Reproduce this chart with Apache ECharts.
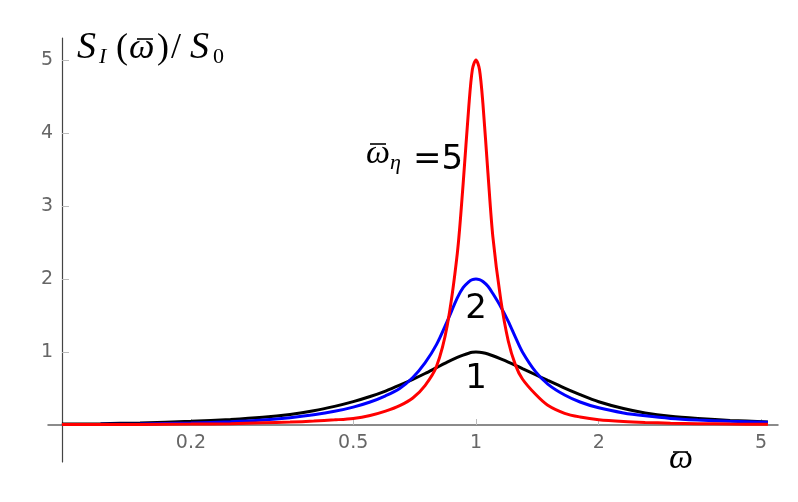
<!DOCTYPE html>
<html>
<head>
<meta charset="utf-8">
<script src="https://cdn.jsdelivr.net/npm/echarts@6.0.0/dist/echarts.min.js"></script>
<style>
  html, body { margin: 0; padding: 0; background: #fff; }
  #chart { width: 798px; height: 502px; }
</style>
</head>
<body>
<div id="chart"></div>
<script>
// normalised frequency (log axis)
const omega = [0.0965, 0.12, 0.15, 0.2, 0.25, 0.3, 0.35, 0.4, 0.45, 0.5, 0.55, 0.6, 0.65, 0.7, 0.75,
  0.8, 0.85, 0.9, 0.93, 0.96, 0.98, 1, 1.02, 1.04, 1.07, 1.1, 1.15, 1.2, 1.25, 1.3, 1.4, 1.5,
  1.65, 1.8, 2, 2.3, 2.6, 3, 3.5, 4.2, 5.2]

// S_I / S_0 for omega_eta = 1, 2, 5
const eta1 = [0.012, 0.018, 0.028, 0.05, 0.075, 0.105, 0.145, 0.195, 0.255, 0.32, 0.39, 0.465, 0.545, 0.625, 0.705,
  0.785, 0.86, 0.925, 0.958, 0.983, 0.995, 1, 0.997, 0.99, 0.972, 0.948, 0.905, 0.862, 0.817, 0.772, 0.688, 0.61,
  0.505, 0.415, 0.318, 0.225, 0.165, 0.12, 0.09, 0.063, 0.042]
const eta2 = [0.006, 0.009, 0.014, 0.028, 0.045, 0.068, 0.1, 0.14, 0.187, 0.245, 0.315, 0.4, 0.5, 0.65, 0.85,
  1.1, 1.42, 1.74, 1.88, 1.96, 1.99, 2, 1.99, 1.965, 1.9, 1.8, 1.62, 1.42, 1.2, 1.0, 0.73, 0.56,
  0.41, 0.315, 0.235, 0.165, 0.125, 0.09, 0.068, 0.05, 0.036]
const eta5 = [0.005, 0.006, 0.008, 0.012, 0.018, 0.03, 0.04, 0.053, 0.07, 0.09, 0.13, 0.19, 0.265, 0.37, 0.54,
  0.8, 1.36, 2.35, 3.3, 4.35, 4.87, 5, 4.87, 4.4, 3.45, 2.58, 1.72, 1.15, 0.82, 0.63, 0.42, 0.27,
  0.16, 0.11, 0.072, 0.047, 0.034, 0.025, 0.018, 0.013, 0.009]

const xTicks = [0.2, 0.5, 1, 2, 5]
const yTicks = [1, 2, 3, 4, 5]

const serif = '"Liberation Serif", "DejaVu Serif", serif'
const sans = '"DejaVu Sans", sans-serif'

function txt(str, x, y, size, opts) {
  opts = opts || {}
  return {
    type: 'text',
    x: x,
    y: y,
    style: {
      text: str,
      fontSize: size,
      fontFamily: opts.family || serif,
      fontStyle: opts.italic ? 'italic' : 'normal',
      fill: '#000',
      align: opts.align || 'left',
      verticalAlign: 'middle',
    },
  }
}

// the bar over omega
function bar(x1, x2, y) {
  return {
    type: 'line',
    shape: { x1: x1, y1: y, x2: x2, y2: y },
    style: { stroke: '#000', lineWidth: 1.6 },
  }
}

const chart = echarts.init(document.getElementById('chart'))

const mkSeries = (vals, color) => ({
  type: 'line',
  data: omega.map((w, i) => [w, vals[i]]),
  smooth: 0.3,
  showSymbol: false,
  lineStyle: { color: color, width: 3 },
  z: 3,
})

chart.setOption({
  animation: false,
  grid: { left: 48, right: 20, top: 38, bottom: 40 },
  xAxis: {
    type: 'log',
    logBase: 10,
    min: 0.0892,
    max: 5.505,
    offset: -37,
    axisLine: { onZero: false, lineStyle: { color: '#666', width: 1.5 } },
    axisTick: { inside: true, length: 6, customValues: xTicks, lineStyle: { color: '#bbb' } },
    axisLabel: { customValues: xTicks, margin: 9, color: '#666', fontSize: 19, fontFamily: sans },
    splitLine: { show: false },
    minorTick: { show: false },
  },
  yAxis: {
    type: 'value',
    min: -0.507,
    max: 5.3,
    offset: -14,
    axisLine: { show: true, onZero: false, lineStyle: { color: '#444', width: 1.2 } },
    axisTick: { show: true, inside: true, length: 7, customValues: yTicks, lineStyle: { color: '#bbb' } },
    axisLabel: { customValues: yTicks, margin: 9, color: '#666', fontSize: 19, fontFamily: sans },
    splitLine: { show: false },
  },
  series: [mkSeries(eta1, '#000'), mkSeries(eta2, '#0000ff'), mkSeries(eta5, '#ff0000')],
  graphic: [
    // y label: S_I(w)/S_0
    txt('S', 77, 48, 38, { italic: true }),
    txt('I', 99, 57, 22, { italic: true }),
    txt('(', 116, 49, 36),
    txt('\u03C9', 129, 49, 36, { italic: true }),
    bar(137, 153, 39),
    txt(')', 157, 49, 36),
    txt('/', 171, 49, 36),
    txt('S', 190, 48, 38, { italic: true }),
    txt('0', 213, 57, 22),
    // omega_eta = 5
    txt('\u03C9', 366, 154, 34, { italic: true }),
    bar(370, 386, 144),
    txt('\u03B7', 390, 163, 22, { italic: true }),
    txt('=5', 413, 160, 34, { family: sans }),
    txt('2', 476, 309, 34, { family: sans, align: 'center' }),
    txt('1', 476, 379, 34, { family: sans, align: 'center' }),
    // x label
    txt('\u03C9', 681, 459, 34, { italic: true, align: 'center' }),
    bar(673, 688, 452),
  ],
})
</script>
</body>
</html>
